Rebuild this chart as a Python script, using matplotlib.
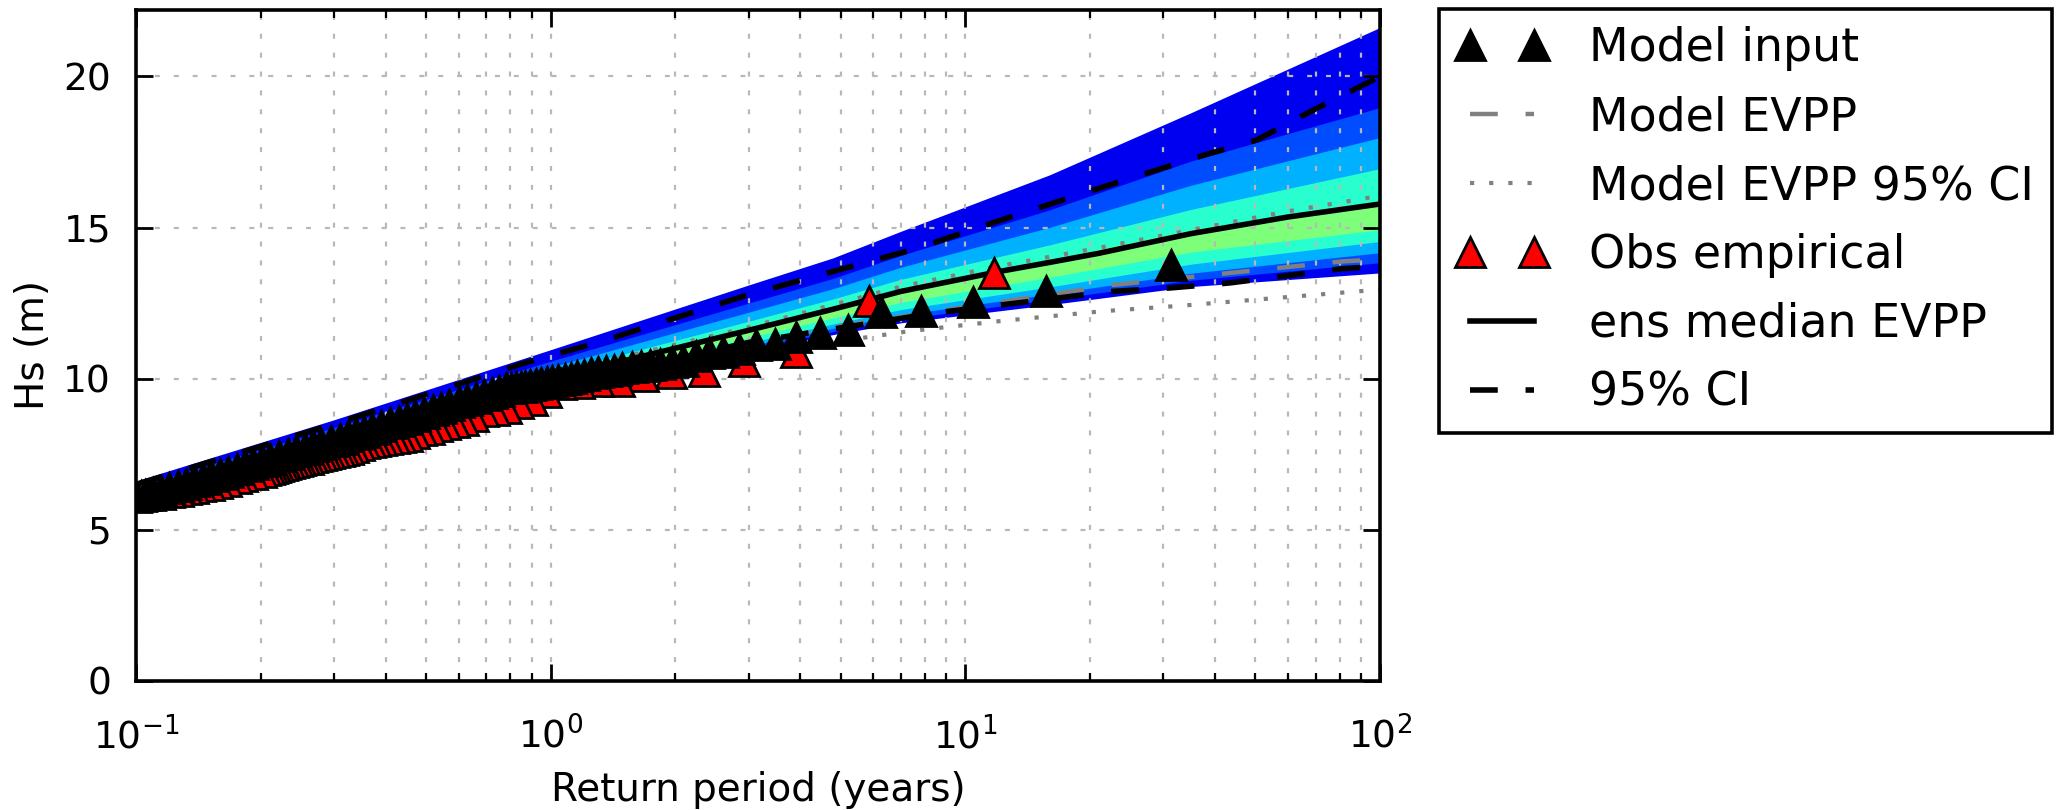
import matplotlib
matplotlib.use("Agg")
import matplotlib.pyplot as plt
import numpy as np

# ensemble spread, edges from lower bound up to upper bound at each return period
band_T = [0.1, 0.3, 1, 3, 4.8, 7, 16, 35, 100]
band_edges = [
    [5.70, 5.75, 5.81, 5.89, 5.99, 6.16, 6.24, 6.34, 6.43, 6.62],
    [7.50, 7.56, 7.63, 7.71, 7.83, 8.02, 8.13, 8.26, 8.38, 8.64],
    [9.50, 9.56, 9.63, 9.71, 9.83, 10.03, 10.19, 10.38, 10.58, 10.96],
    [10.90, 10.98, 11.08, 11.19, 11.36, 11.65, 11.90, 12.20, 12.50, 13.10],
    [11.46, 11.56, 11.67, 11.81, 12.01, 12.35, 12.64, 12.98, 13.32, 14.00],
    [11.85, 11.97, 12.11, 12.29, 12.53, 12.95, 13.29, 13.69, 14.08, 14.88],
    [12.45, 12.62, 12.80, 13.04, 13.36, 13.94, 14.43, 15.01, 15.59, 16.75],
    [13.05, 13.26, 13.49, 13.79, 14.19, 14.92, 15.60, 16.40, 17.20, 18.80],
    [13.50, 13.84, 14.17, 14.54, 14.93, 15.90, 16.95, 17.98, 18.97, 21.62],
]
band_levels = [0.1, 0.2, 0.3, 0.4, 0.5]

# ensemble median and 95% CI
median_T = [0.1, 0.3, 1, 3, 4.8, 7, 12.1, 16, 21, 35, 60, 100]
median_hs = [6.15, 8.0, 10.0, 11.6, 12.3, 12.89, 13.55, 13.85, 14.15, 14.8, 15.35, 15.78]
ci_hi_T = [0.1, 0.3, 0.87, 1.3, 3, 7.6, 11.7, 21, 37.7, 50.5, 68.6, 100]
ci_hi_hs = [6.5, 8.5, 10.53, 11.2, 12.78, 14.3, 15.17, 16.3, 17.4, 17.9, 18.87, 20.0]
ci_lo_T = [0.1, 0.3, 1, 3, 8.5, 22.7, 31, 43.5, 81, 100]
ci_lo_hs = [5.85, 7.6, 9.7, 11.2, 12.18, 12.89, 13.0, 13.17, 13.64, 13.72]

# model EVPP fit and its 95% CI
evpp_T = [0.1, 0.3, 1, 4.8, 8.7, 11.7, 22.6, 43.5, 81, 100]
evpp_hs = [6.0, 7.85, 9.8, 11.7, 12.25, 12.5, 13.1, 13.5, 13.88, 13.95]
evpp_lo_T = [0.1, 0.3, 1, 3, 6, 7.3, 12, 21.3, 33.5, 100]
evpp_lo_hs = [5.75, 7.55, 9.45, 10.85, 11.4, 11.57, 11.9, 12.23, 12.42, 12.95]
evpp_hi_T = [0.1, 0.3, 1, 3, 7, 12, 21, 60, 100]
evpp_hi_hs = [6.25, 8.15, 10.15, 11.7, 13.05, 13.72, 14.33, 15.54, 16.05]

# model input, empirical return periods
model_T = [31.3, 15.65, 10.43, 7.83, 6.26, 5.22, 4.47, 3.91, 3.48, 3.13,
           2.85, 2.61, 2.41, 2.24, 2.09, 1.96, 1.84, 1.74, 1.65, 1.57,
           1.49, 1.42, 1.36, 1.30, 1.25, 1.20, 1.16, 1.12, 1.08, 1.04,
           1.01, 0.978, 0.948, 0.92, 0.894, 0.869, 0.846, 0.824, 0.803, 0.782,
           0.75, 0.72, 0.69, 0.66, 0.63, 0.60, 0.57, 0.545, 0.52, 0.495,
           0.47, 0.45, 0.43, 0.41, 0.39, 0.37, 0.355, 0.34, 0.325, 0.31,
           0.295, 0.28, 0.267, 0.255, 0.243, 0.232, 0.221, 0.211, 0.201, 0.192,
           0.183, 0.175, 0.167, 0.159, 0.152, 0.145, 0.138, 0.132, 0.126, 0.12,
           0.115, 0.11, 0.105, 0.10]
model_hs = [13.76, 12.89, 12.53, 12.23, 12.2, 11.62, 11.52, 11.37, 11.15, 11.1,
            10.97, 10.9, 10.85, 10.75, 10.6, 10.55, 10.5, 10.46, 10.42, 10.38,
            10.35, 10.3, 10.27, 10.22, 10.18, 10.12, 10.08, 10.03, 10.0, 9.97,
            9.93, 9.9, 9.86, 9.82, 9.8, 9.77, 9.74, 9.72, 9.7, 9.68,
            9.6, 9.52, 9.45, 9.37, 9.3, 9.22, 9.12, 9.04, 8.95, 8.87,
            8.77, 8.68, 8.6, 8.52, 8.43, 8.33, 8.25, 8.18, 8.1, 8.02,
            7.94, 7.85, 7.77, 7.68, 7.6, 7.52, 7.43, 7.35, 7.27, 7.18,
            7.1, 7.02, 6.93, 6.85, 6.77, 6.68, 6.6, 6.52, 6.45, 6.37,
            6.3, 6.23, 6.16, 6.1]

# observations, empirical return periods
obs_T = [11.7, 5.85, 3.9, 2.93, 2.34, 1.95, 1.67, 1.46, 1.30, 1.17,
         1.06, 0.975, 0.90, 0.836, 0.78, 0.731, 0.688, 0.65, 0.616, 0.585,
         0.557, 0.532, 0.509, 0.4875, 0.468, 0.45, 0.433, 0.418, 0.403, 0.39,
         0.377, 0.366, 0.355, 0.344, 0.334, 0.325, 0.316, 0.308, 0.30, 0.2925,
         0.285, 0.279, 0.272, 0.266, 0.26, 0.254, 0.249, 0.244, 0.239, 0.234,
         0.229, 0.225, 0.22, 0.216, 0.213, 0.209, 0.205, 0.20, 0.19, 0.18,
         0.174, 0.165, 0.157, 0.15, 0.143, 0.137, 0.132, 0.126, 0.12, 0.114,
         0.108, 0.103]
obs_hs = [13.5, 12.58, 10.9, 10.6, 10.27, 10.2, 10.09, 9.94, 9.93, 9.86,
          9.81, 9.55, 9.31, 9.2, 9.04, 8.98, 8.93, 8.78, 8.62, 8.57,
          8.5, 8.43, 8.35, 8.29, 8.2, 8.12, 8.06, 8.03, 7.99, 7.96,
          7.93, 7.9, 7.88, 7.8, 7.73, 7.68, 7.64, 7.6, 7.57, 7.54,
          7.5, 7.46, 7.43, 7.4, 7.36, 7.33, 7.3, 7.27, 7.24, 7.2,
          7.17, 7.14, 7.1, 7.07, 7.04, 7.01, 6.98, 6.93, 6.86, 6.78,
          6.73, 6.63, 6.55, 6.49, 6.44, 6.39, 6.34, 6.3, 6.25, 6.2,
          6.15, 6.12]

y_ticks = [0, 5, 10, 15, 20]


if __name__ == "__main__":
    plt.rcParams["lines.scale_dashes"] = False

    fig = plt.figure(figsize=(10.32, 4.05), dpi=200)
    ax = fig.add_axes([0.0659, 0.1593, 0.6027, 0.8284])

    # nested fills, outermost first, so no seams between bands
    edges = np.array(band_edges)
    for k, lev in enumerate(band_levels):
        ax.fill_between(band_T, edges[:, k], edges[:, 9 - k],
                        color=plt.cm.jet(lev), lw=0, zorder=0.3)

    ax.plot(evpp_T, evpp_hs, color="0.5", lw=1.6, dashes=(10, 10),
            label="Model EVPP", zorder=2)
    ax.plot(evpp_lo_T, evpp_lo_hs, color="0.5", lw=1.5, dashes=(1.5, 5.4),
            label="Model EVPP 95% CI", zorder=2)
    ax.plot(evpp_hi_T, evpp_hi_hs, color="0.5", lw=1.5, dashes=(1.5, 5.4), zorder=2)
    ax.plot(median_T, median_hs, color="k", lw=2, label="ens median EVPP", zorder=2)
    ax.plot(ci_hi_T, ci_hi_hs, color="k", lw=2, dashes=(10, 10),
            label="95% CI", zorder=2)
    ax.plot(ci_lo_T, ci_lo_hs, color="k", lw=2, dashes=(10, 10), zorder=2)

    ax.plot(obs_T, obs_hs, ls="none", marker="^", ms=10.5, mfc="red", mec="k",
            mew=1, label="Obs empirical", zorder=3)
    ax.plot(model_T, model_hs, ls="none", marker="^", ms=10.5, mfc="k", mec="k",
            mew=1, label="Model input", zorder=4)

    ax.set_xscale("log")
    ax.set_xlim(0.1, 100)
    ax.set_ylim(0, 22.2)
    ax.set_yticks(y_ticks)
    ax.set_axisbelow(True)
    ax.grid(True, which="both", color="0.72", lw=0.8, linestyle=(0, (1.8, 5)))

    ax.tick_params(which="both", direction="in", top=True, right=True, labelsize=13.5)
    ax.tick_params(which="major", length=6, width=1)
    ax.tick_params(which="minor", length=2.8, width=0.8)
    ax.tick_params(axis="y", pad=9)
    ax.tick_params(axis="x", pad=13)
    for sp in ax.spines.values():
        sp.set_linewidth(1.3)

    ax.set_xlabel("Return period (years)", fontsize=14, labelpad=5)
    ax.set_ylabel("Hs (m)", fontsize=14, labelpad=4)

    # legend order as in the original
    h, l = ax.get_legend_handles_labels()
    hd = dict(zip(l, h))
    order = ["Model input", "Model EVPP", "Model EVPP 95% CI",
             "Obs empirical", "ens median EVPP", "95% CI"]
    leg = ax.legend([hd[o] for o in order], order, loc="upper left",
                    bbox_to_anchor=(1439 / 2064, 1 - 9 / 810),
                    bbox_transform=fig.transFigure, borderaxespad=0,
                    numpoints=2, fontsize=16.5, fancybox=False, framealpha=1,
                    edgecolor="k", handlelength=2.0, handletextpad=0.9,
                    labelspacing=0.52, borderpad=0.38)
    leg.get_frame().set_linewidth(1.3)

    fig.savefig("out.png", dpi=200)
    plt.close()
